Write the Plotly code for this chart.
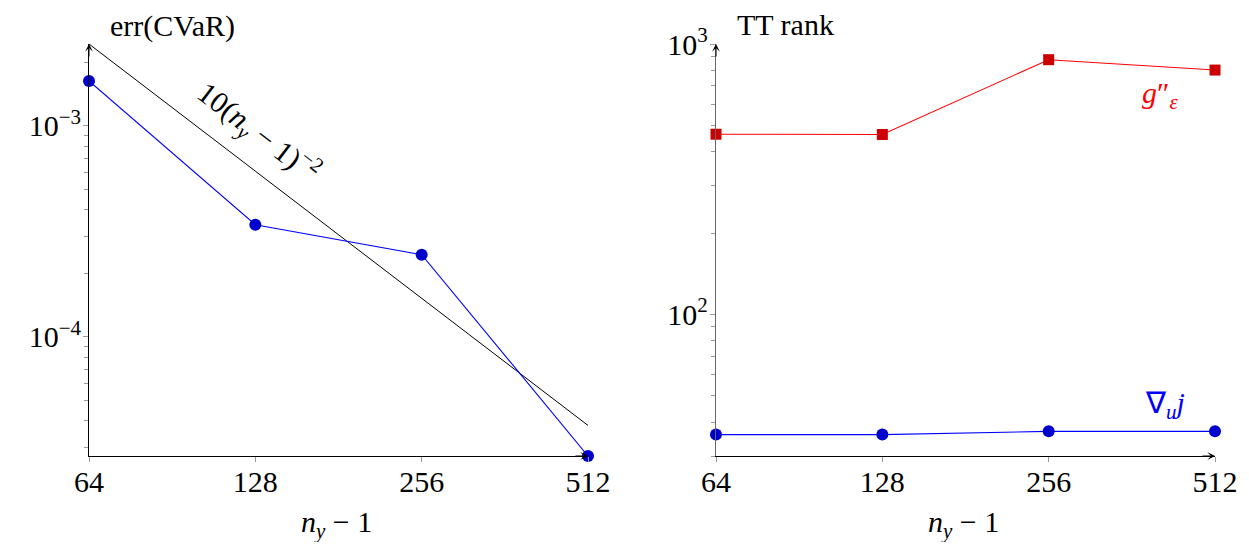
import math
import plotly.graph_objects as go

# ---------------- data ----------------
n_y_minus_1 = [64, 128, 256, 512]
x_ticktext = ["64", "128", "256", "512"]

err_cvar = [1.63e-3, 3.40e-4, 2.45e-4, 2.73e-5]
ref_x = [64, 512]
ref_y = [2.44e-3, 3.81e-5]

rank_hess = [464, 463, 875, 801]
rank_grad = [36.0, 36.0, 37.0, 37.0]

left_ytickvals = [1e-4, 1e-3]
left_yticktext = ["10<sup>−4</sup>", "10<sup>−3</sup>"]
left_yminor = [3e-5, 4e-5, 5e-5, 6e-5, 7e-5, 8e-5, 9e-5,
               2e-4, 3e-4, 4e-4, 5e-4, 6e-4, 7e-4, 8e-4, 9e-4, 2e-3]

right_ytickvals = [100, 1000]
right_yticktext = ["10<sup>2</sup>", "10<sup>3</sup>"]
right_yminor = [30, 40, 50, 60, 70, 80, 90,
                200, 300, 400, 500, 600, 700, 800, 900]

# ---------------- layout geometry ----------------
PAGE_W, PAGE_H = 1249, 550
OFF = 8                      # default body margin of the html page
W, H = PAGE_W - 2 * OFF, PAGE_H - 2 * OFF
FONT = "Liberation Serif"
FS = 30
EPS = 1e-6


def px_x(p):
    return (p - OFF) / W


def px_y(p):
    return 1 - (p - OFF) / H


ydom = [px_y(456), px_y(44)]

fig = go.Figure()

fig.add_trace(go.Scatter(
    x=ref_x, y=ref_y, mode="lines", xaxis="x", yaxis="y",
    line=dict(color="black", width=1), showlegend=False, cliponaxis=False))
fig.add_trace(go.Scatter(
    x=n_y_minus_1, y=err_cvar, mode="lines+markers", xaxis="x", yaxis="y",
    line=dict(color="#0000FF", width=1.1),
    marker=dict(symbol="circle", size=12, color="#0000CC",
                line=dict(color="#0000CC", width=0)),
    showlegend=False, cliponaxis=False))

fig.add_trace(go.Scatter(
    x=n_y_minus_1, y=rank_hess, mode="lines+markers", xaxis="x2", yaxis="y2",
    line=dict(color="#FF0000", width=1.1),
    marker=dict(symbol="square", size=11, color="#CC0000",
                line=dict(color="#CC0000", width=0)),
    showlegend=False, cliponaxis=False))
fig.add_trace(go.Scatter(
    x=n_y_minus_1, y=rank_grad, mode="lines+markers", xaxis="x2", yaxis="y2",
    line=dict(color="#0000FF", width=1.1),
    marker=dict(symbol="circle", size=12, color="#0000CC",
                line=dict(color="#0000CC", width=0)),
    showlegend=False, cliponaxis=False))

tickfont = dict(family=FONT, size=FS, color="black")


def xaxis_cfg(dom, anchor):
    return dict(
        domain=dom, anchor=anchor, type="log",
        range=[math.log10(n_y_minus_1[0]) - EPS, math.log10(n_y_minus_1[-1]) + EPS],
        tickmode="array", tickvals=n_y_minus_1, ticktext=x_ticktext,
        ticks="outside", ticklen=5, tickcolor="#999999", tickwidth=1,
        showline=True, linecolor="black", linewidth=1,
        showgrid=False, zeroline=False, tickfont=tickfont,
        ticklabelstandoff=-6, automargin=False, fixedrange=True)


def yaxis_cfg(anchor, rng, tv, tt, minor, lc, lw):
    return dict(
        domain=ydom, anchor=anchor, type="log",
        range=[rng[0] - EPS, rng[1] + EPS],
        tickmode="array", tickvals=tv, ticktext=tt,
        ticks="outside", ticklen=5, tickcolor="#999999", tickwidth=1,
        minor=dict(tickmode="array", tickvals=minor, ticks="outside",
                   ticklen=4, tickcolor="#999999", tickwidth=1, showgrid=False),
        showline=True, linecolor=lc, linewidth=lw,
        showgrid=False, zeroline=False, tickfont=tickfont,
        ticklabelstandoff=-4, automargin=False, fixedrange=True)


fig.update_layout(
    width=W, height=H,
    margin=dict(l=0, r=0, t=0, b=0),
    paper_bgcolor="white", plot_bgcolor="white",
    font=dict(family=FONT, size=FS, color="black"),
    xaxis=xaxis_cfg([px_x(89), px_x(588)], "y"),
    yaxis=yaxis_cfg("x", [math.log10(err_cvar[-1]), math.log10(ref_y[0])],
                    left_ytickvals, left_yticktext, left_yminor, "black", 1),
    xaxis2=xaxis_cfg([px_x(716), px_x(1215)], "y2"),
    yaxis2=yaxis_cfg("x2", [math.log10(30), math.log10(1000)],
                     right_ytickvals, right_yticktext, right_yminor, "#666666", 1.4),
)

ann = []
# axis arrows
for xr, yr in (("x", "y"), ("x2", "y2")):
    ann.append(dict(x=0, y=1, xref=f"{xr} domain", yref=f"{yr} domain",
                    ax=0, ay=14, axref="pixel", ayref="pixel", text="",
                    showarrow=True, arrowhead=3, arrowsize=1.3, arrowwidth=1,
                    arrowcolor="black"))
    ann.append(dict(x=1, y=0, xref=f"{xr} domain", yref=f"{yr} domain",
                    ax=-14, ay=0, axref="pixel", ayref="pixel", text="",
                    showarrow=True, arrowhead=3, arrowsize=1.3, arrowwidth=1,
                    arrowcolor="black"))


def label(x, y, text, xref="paper", yref="paper", color="black", angle=0):
    return dict(x=x, y=y, xref=xref, yref=yref, text=text, showarrow=False,
                xanchor="center", yanchor="middle", textangle=angle,
                font=dict(family=FONT, size=FS, color=color))


# axis titles
ann.append(label(px_x(172), px_y(26), "err(CVaR)"))
ann.append(label(px_x(785), px_y(25), "TT rank"))
for cx in (336, 963):
    ann.append(label(px_x(cx), px_y(524), "<i>n</i><sub><i>y</i></sub> − 1"))

# reference line label
ann.append(label(px_x(259), px_y(132),
                 "10(<i>n</i><sub><i>y</i></sub> − 1)<sup>−2</sup>", angle=37.4))

# series labels on right plot
ann.append(label(px_x(1160), px_y(95), "<i>g</i>″<sub><i>ε</i></sub>",
                 color="#FF0000"))
ann.append(label(px_x(1165), px_y(405), "∇<sub><i>u</i></sub><i>j</i>",
                 color="#0000FF"))

fig.update_layout(annotations=ann)

fig.write_html("out.html")
